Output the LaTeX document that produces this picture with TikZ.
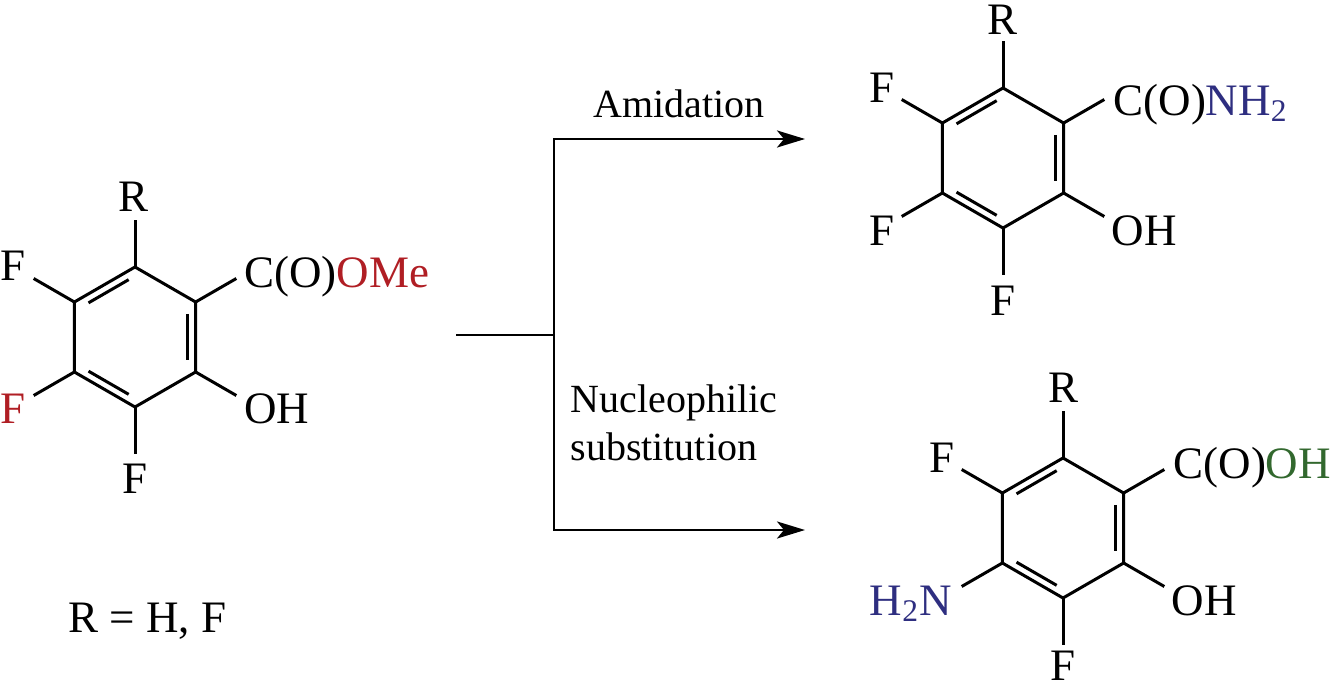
\documentclass[tikz,border=0pt]{standalone}
\usepackage{fontspec}
\setmainfont{Liberation Serif}
\usepackage{tikz}
\usetikzlibrary{arrows.meta,calc,positioning}
\definecolor{esterred}{RGB}{176,30,36}
\definecolor{amineblue}{RGB}{46,46,128}
\definecolor{acidgreen}{RGB}{50,104,46}

\begin{document}
\begin{tikzpicture}
			[x=0.5pt, y=-0.5pt, line width=1.5pt,
			atom/.style			= {inner sep=0pt, font=\fontsize{22.5}{27}\selectfont},
			caption/.style		= {inner sep=0pt, align=left, font=\fontsize{20}{24}\selectfont},
			route/.style		= {line width=1.4pt, -{Stealth[length=14pt, width=8.5pt, inset=3.5pt]}},
			ring/.style			= {line join=miter}]

			\useasboundingbox (0,0) rectangle (1333,685);

			% starting ester
			\begin{scope}[shift={(135,337)}, name prefix=a-]
			\foreach \k/\ang in {1/-90,2/-30,3/30,4/90,5/150,6/210} {
				\coordinate (v\k) at (\ang:70);
				\coordinate (i\k) at (\ang:61);
				\coordinate (s\k) at (\ang:117);
				\draw (v\k) -- (s\k);
			}
			\draw [ring] (v1) -- (v2) -- (v3) -- (v4) -- (v5) -- (v6) -- cycle;
			\foreach \p/\q in {6/1,2/3,4/5}
				\draw ($(i\p)!0.12!(i\q)$) -- ($(i\q)!0.12!(i\p)$);
			\node [atom, anchor=base]		at (-1,-126)	(R)		{R};
			\node [atom, anchor=base]		at (-122,-57)	(F1)	{F};
			\node [atom, anchor=base west]	at (108,-50)	(CO)	{C(O)\textcolor{esterred}{OMe}};
			\node [atom, anchor=base west]	at (108,86)		(OH)	{OH};
			\node [atom, anchor=base, text=esterred] at (-122,86) (F2) {F};
			\node [atom, anchor=base]		at (0,156)		(F3)	{F};
			\node [atom, anchor=base west]	at (-68,295)	(Rdef)	{R = H, F};
			\end{scope}

			% amide
			\begin{scope}[shift={(1003,158)}, name prefix=b-]
			\foreach \k/\ang in {1/-90,2/-30,3/30,4/90,5/150,6/210} {
				\coordinate (v\k) at (\ang:70);
				\coordinate (i\k) at (\ang:61);
				\coordinate (s\k) at (\ang:117);
				\draw (v\k) -- (s\k);
			}
			\draw [ring] (v1) -- (v2) -- (v3) -- (v4) -- (v5) -- (v6) -- cycle;
			\foreach \p/\q in {6/1,2/3,4/5}
				\draw ($(i\p)!0.12!(i\q)$) -- ($(i\q)!0.12!(i\p)$);
			\node [atom, anchor=base]		at (-1,-124)	(R)		{R};
			\node [atom, anchor=base]		at (-121,-56)	(F1)	{F};
			\node [atom, anchor=base west]	at (109,-43)	(CO)	{C(O)\textcolor{amineblue}{NH\textsubscript{2}}};
			\node [atom, anchor=base west]	at (107,87)		(OH)	{OH};
			\node [atom, anchor=base]		at (-121,87)	(F2)	{F};
			\node [atom, anchor=base]		at (0,157)		(F3)	{F};
			\end{scope}

			% amino acid
			\begin{scope}[shift={(1063,528)}, name prefix=c-]
			\foreach \k/\ang in {1/-90,2/-30,3/30,4/90,5/150,6/210} {
				\coordinate (v\k) at (\ang:70);
				\coordinate (i\k) at (\ang:61);
				\coordinate (s\k) at (\ang:117);
				\draw (v\k) -- (s\k);
			}
			\draw [ring] (v1) -- (v2) -- (v3) -- (v4) -- (v5) -- (v6) -- cycle;
			\foreach \p/\q in {6/1,2/3,4/5}
				\draw ($(i\p)!0.12!(i\q)$) -- ($(i\q)!0.12!(i\p)$);
			\node [atom, anchor=base]		at (0,-126)		(R)		{R};
			\node [atom, anchor=base]		at (-121,-56)	(F1)	{F};
			\node [atom, anchor=base west]	at (109,-50)	(CO)	{C(O)\textcolor{acidgreen}{OH}};
			\node [atom, anchor=base west]	at (107,87)		(OH)	{OH};
			\node [atom, anchor=base east, text=amineblue] at (-110,87) (NH) {H\textsubscript{2}N};
			\node [atom, anchor=base]		at (0,152)		(F3)	{F};
			\end{scope}

			% branching reaction arrows
			\coordinate (feed)	at (456,335);
			\coordinate (split)	at (554,335);
			\coordinate (amid)	at (805,139);
			\coordinate (nucl)	at (805,530);
			\draw [line width=1.4pt] (feed) -- (split);
			\draw [route] (split) |- (amid);
			\draw [route] (split) |- (nucl);
			\node [caption, anchor=base west] at (592,117) (amidtext) {Amidation};
			\node [caption, anchor=base west] at (569,460) (nucltext) {Nucleophilic\\substitution};
			\end{tikzpicture}
\end{document}
